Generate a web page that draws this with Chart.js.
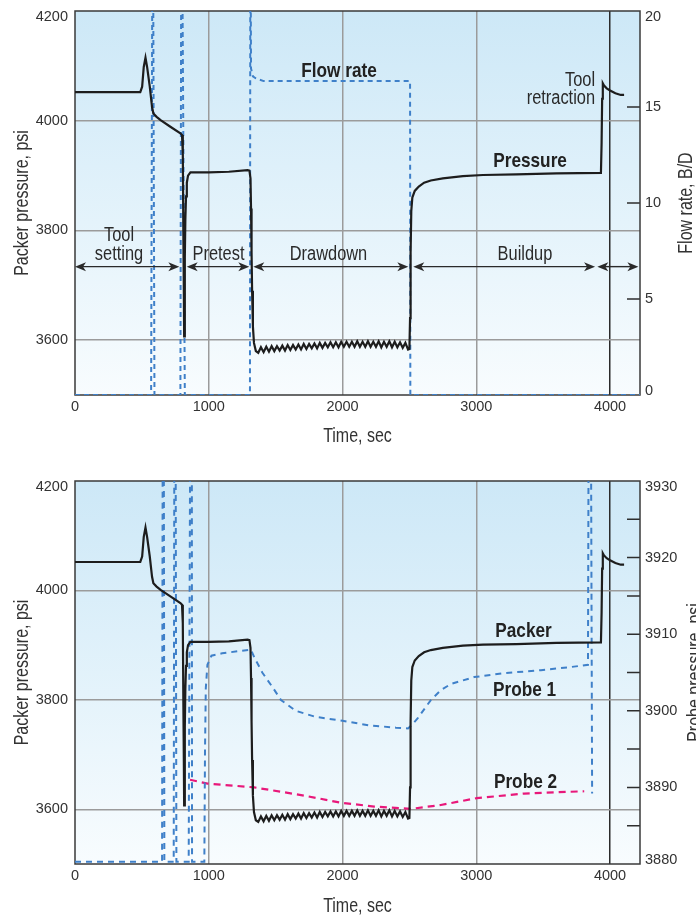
<!DOCTYPE html>
<html>
<head>
<meta charset="utf-8">
<script src="https://cdn.jsdelivr.net/npm/chart.js@4.4.1/dist/chart.umd.min.js"></script>
<style>
  html, body { margin: 0; padding: 0; background: #ffffff; }
  #wrap { position: relative; width: 696px; height: 915px; overflow: hidden; }
  .panel { position: absolute; left: 0; width: 696px; }
  #p1 { top: 0; height: 456px; }
  #p2 { top: 458px; height: 457px; }
</style>
</head>
<body>
<div id="wrap">
  <div class="panel" id="p1"><canvas id="c1"></canvas></div>
  <div class="panel" id="p2"><canvas id="c2"></canvas></div>
</div>
<script>
// ---------- data ----------
const timeTicks = [0, 1000, 2000, 3000, 4000];
const pressureTicks = [3600, 3800, 4000, 4200];
const flowTicks = [0, 5, 10, 15, 20];
const probeTicks = [3880, 3885, 3890, 3895, 3900, 3905, 3910, 3915, 3920, 3925, 3930];

// packer pressure, psi (time in sec)
const packerTime = [
  0, 488, 502, 514, 527, 539, 559, 576, 586, 610, 640, 713, 788, 800, 806, 810, 814, 816,
  821, 825, 830, 836, 845, 863, 1000, 1150, 1290, 1304, 1312, 1316, 1320, 1324, 1330, 1338, 1352,
  1370, 1390, 1410, 1430, 1450, 1470, 1490, 1510, 1530, 1550, 1570, 1590, 1610, 1630, 1650,
  1670, 1690, 1710, 1730, 1750, 1770, 1790, 1810, 1830, 1850, 1870, 1890, 1910, 1930, 1950,
  1970, 1990, 2010, 2030, 2050, 2070, 2090, 2110, 2130, 2150, 2170, 2190, 2210, 2230, 2250,
  2270, 2290, 2310, 2330, 2350, 2370, 2390, 2410, 2430, 2450, 2470, 2490,
  2500, 2505, 2509, 2514, 2522, 2540, 2570, 2610, 2660, 2750, 2900, 3050, 3300, 3600, 3932,
  3937, 3941, 3946, 3955, 3975, 4000, 4040, 4080, 4105
];
const packerPsi = [
  4052, 4052, 4062, 4098, 4115, 4098, 4062, 4025, 4013, 4007, 4001, 3989, 3977, 3974, 3940, 3800, 3680, 3607,
  3750, 3820, 3862, 3887, 3900, 3906, 3906, 3907, 3910, 3909, 3895, 3840, 3760, 3690, 3625, 3595, 3580,
  3577, 3587, 3578, 3588, 3579, 3589, 3580, 3589, 3581, 3590, 3581, 3591, 3582, 3591, 3583,
  3592, 3583, 3593, 3584, 3593, 3585, 3594, 3585, 3595, 3586, 3595, 3587, 3596, 3587, 3596,
  3587, 3597, 3588, 3597, 3588, 3597, 3588, 3598, 3588, 3597, 3588, 3598, 3588, 3597, 3588,
  3598, 3587, 3597, 3588, 3598, 3587, 3597, 3587, 3596, 3586, 3595, 3583,
  3584, 3640, 3760, 3835, 3860, 3872, 3880, 3887, 3891, 3895, 3899, 3901, 3902, 3904, 3905,
  3960, 4040, 4068, 4064, 4059, 4055, 4050, 4047, 4047
];

// flow rate, B/D
const flowTime = [0, 569, 581, 594, 788, 796, 821, 1308, 1311, 1316, 1330, 1350, 1410, 2505, 2507, 4224];
const flowRate = [0, 0, 30, 0, 0, 30, 0, 0, 26, 17.0, 16.6, 16.5, 16.35, 16.35, 0, 0];

// probe pressures, psi
const probe1Time = [
  0, 651, 660, 668, 738, 747, 758, 850, 872, 875, 967, 972, 978, 990, 1020, 1100, 1315,
  1340, 1400, 1480, 1540, 1650, 1800, 2000, 2200, 2400, 2490, 2520, 2561, 2660, 2735, 2810,
  2984, 3200, 3483, 3700, 3835, 3848, 3866
];
const probe1Psi = [
  3880.3, 3880.3, 3990, 3880.3, 3880.3, 3990, 3880.3, 3880.3, 3990, 3880.3, 3880.3, 3895, 3903, 3906, 3907.2, 3907.5, 3908,
  3907, 3905, 3903, 3901.4, 3900, 3899.2, 3898.7, 3898.1, 3897.8, 3897.7, 3898.2, 3899, 3901.4, 3902.7, 3903.5,
  3904.4, 3904.9, 3905.3, 3905.7, 3906, 3990, 3889.2
];
const probe2Time = [860, 991, 1340, 1690, 1988, 2237, 2511, 2735, 3004, 3358, 3807];
const probe2Psi = [3891, 3890.5, 3890, 3889, 3888, 3887.5, 3887.2, 3887.7, 3888.6, 3889.2, 3889.5];

// test phases along the time axis
const phaseNames = [['Tool', 'setting'], ['Pretest'], ['Drawdown'], ['Buildup'], []];
const phaseStart = [0, 835, 1333, 2529, 3905];
const phaseEnd = [780, 1303, 2492, 3888, 4212];

// ---------- styling ----------
const FONT = '"Liberation Sans", Arial, sans-serif';
const NARROW = 0.82;   // horizontal squeeze for a condensed look
Chart.defaults.font.family = FONT;
Chart.defaults.color = '#333333';

const INK = '#1d1d1d';
const BLUE = '#3f80c9';
const PINK = '#e8187a';
const GRID = '#9b9b9b';
const TICK_SIZE = 14.5;

const pts = (xs, ys) => xs.map((x, i) => ({ x: x, y: ys[i] }));

// labels sitting on the top/bottom edge of the plot are nudged inward
function edgeLabel(top, bottom, every) {
  return function (v) {
    if (every && v % every !== 0) return '';
    const s = String(v);
    if (v === top) return ['', s];
    if (v === bottom) return [s, ''];
    return s;
  };
}
function edgeFont(top, bottom) {
  return function (c) {
    const v = c.tick ? c.tick.value : null;
    if (v === top) return { size: TICK_SIZE, lineHeight: '12px' };
    if (v === bottom) return { size: TICK_SIZE, lineHeight: '8px' };
    return { size: TICK_SIZE };
  };
}

function timeScale(axisHeight) {
  return {
    type: 'linear', min: 0, max: 4224,
    afterBuildTicks: s => { s.ticks = timeTicks.map(v => ({ value: v })); },
    afterFit: s => { s.height = axisHeight; s.paddingLeft = 0; s.paddingRight = 0; },
    grid: {
      color: c => {
        const v = c.tick ? c.tick.value : 0;
        if (v === 0) return 'rgba(0,0,0,0)';
        return v === 4000 ? '#2b2b2b' : GRID;
      },
      lineWidth: 1.5, drawTicks: false
    },
    border: { display: false },
    ticks: { padding: 3, font: { size: TICK_SIZE }, color: '#333', maxRotation: 0, autoSkip: false,
      callback: v => String(v) }
  };
}

function pressureScale() {
  return {
    type: 'linear', position: 'left', min: 3500, max: 4200,
    afterBuildTicks: s => { s.ticks = pressureTicks.map(v => ({ value: v })); },
    afterFit: s => { s.width = 75; s.paddingTop = 0; s.paddingBottom = 0; },
    grid: {
      color: c => (c.tick && c.tick.value < 4200) ? GRID : 'rgba(0,0,0,0)',
      lineWidth: 1.5, drawTicks: false
    },
    border: { display: false },
    ticks: { padding: 7, color: '#333', autoSkip: false, font: edgeFont(4200, null), callback: edgeLabel(4200, null) }
  };
}

function rightScale(min, max, tickList, every) {
  return {
    type: 'linear', position: 'right', min: min, max: max,
    afterBuildTicks: s => { s.ticks = tickList.map(v => ({ value: v })); },
    afterFit: s => { s.width = 56; s.paddingTop = 0; s.paddingBottom = 0; },
    grid: { display: false, drawOnChartArea: false, drawTicks: false },
    border: { display: false },
    ticks: { padding: 5, color: '#333', autoSkip: false, font: edgeFont(max, min), callback: edgeLabel(max, min, every) }
  };
}

function arrowHead(ctx, x, y, dir) {
  ctx.beginPath();
  ctx.moveTo(x, y);
  ctx.lineTo(x - dir * 11, y - 4.5);
  ctx.lineTo(x - dir * 8, y);
  ctx.lineTo(x - dir * 11, y + 4.5);
  ctx.closePath();
  ctx.fill();
}

// condensed text: squeeze the glyphs along the writing direction
function narrowText(ctx, text, x, y, align, font, angle) {
  ctx.save();
  ctx.translate(x, y);
  if (angle) ctx.rotate(angle);
  ctx.scale(NARROW, 1);
  ctx.font = font;
  ctx.textAlign = align;
  ctx.textBaseline = 'alphabetic';
  ctx.fillText(text, 0, 0);
  ctx.restore();
}

// background, frame, inward right-axis ticks, notes and axis titles
function makeDecor(cfg) {
  return {
    id: 'decor',
    beforeDraw(chart) {
      const { ctx, chartArea: a } = chart;
      const g = ctx.createLinearGradient(0, a.top, 0, a.bottom);
      g.addColorStop(0, '#cde8f7');
      g.addColorStop(0.55, '#e4f3fb');
      g.addColorStop(1, '#f8fcfe');
      ctx.save();
      ctx.fillStyle = g;
      ctx.fillRect(a.left, a.top, a.right - a.left, a.bottom - a.top);
      ctx.restore();
    },
    beforeDatasetsDraw(chart) {
      const { ctx, chartArea: a } = chart;
      const r = chart.scales.y2;
      ctx.save();
      ctx.strokeStyle = '#2e2e2e';
      ctx.lineWidth = 1.5;
      ctx.beginPath();
      r.ticks.forEach(t => {
        const py = r.getPixelForValue(t.value);
        if (py > a.top + 2 && py < a.bottom - 2) {
          ctx.moveTo(a.right - 13, py);
          ctx.lineTo(a.right, py);
        }
      });
      ctx.stroke();
      ctx.strokeStyle = '#3a3a3a';
      ctx.strokeRect(a.left, a.top, a.right - a.left, a.bottom - a.top);
      ctx.restore();
    },
    afterDatasetsDraw(chart) {
      const { ctx } = chart;
      const xs = chart.scales.x, ys = chart.scales.y;
      ctx.save();
      ctx.fillStyle = '#2a2a2a';
      ctx.strokeStyle = '#2a2a2a';

      if (cfg.phases) {
        const ay = ys.getPixelForValue(cfg.phases.level);
        ctx.lineWidth = 1.4;
        phaseNames.forEach((lines, i) => {
          const x0 = xs.getPixelForValue(phaseStart[i]);
          const x1 = xs.getPixelForValue(phaseEnd[i]);
          ctx.beginPath();
          ctx.moveTo(x0 + 6, ay);
          ctx.lineTo(x1 - 6, ay);
          ctx.stroke();
          arrowHead(ctx, x0, ay, -1);
          arrowHead(ctx, x1, ay, 1);
          const cx = xs.getPixelForValue(cfg.phases.labelAt[i]);
          lines.forEach((s, k) => {
            narrowText(ctx, s, cx, ay - 7 - (lines.length - 1 - k) * 19, 'center', '20px ' + FONT);
          });
        });
      }

      (cfg.notes || []).forEach(n => {
        const x = xs.getPixelForValue(n.x);
        n.lines.forEach((s, k) => narrowText(ctx, s, x, ys.getPixelForValue(n.y[k]), 'right', '20px ' + FONT));
      });

      ctx.fillStyle = '#222';
      (cfg.tags || []).forEach(t => {
        narrowText(ctx, t.text, xs.getPixelForValue(t.x), ys.getPixelForValue(t.y), 'center', 'bold 21px ' + FONT);
      });
      ctx.restore();
    },
    afterDraw(chart) {
      const { ctx, chartArea: a } = chart;
      const midY = (a.top + a.bottom) / 2;
      const f = '19.5px ' + FONT;
      ctx.save();
      ctx.fillStyle = '#333';
      narrowText(ctx, 'Time, sec', (a.left + a.right) / 2, a.bottom + cfg.xTitleGap, 'center', f);
      narrowText(ctx, 'Packer pressure, psi', 28, midY, 'center', f, -Math.PI / 2);
      narrowText(ctx, cfg.rightTitle, cfg.rightTitleX, midY, 'center', f, -Math.PI / 2);
      ctx.restore();
    }
  };
}

const lineStyle = { pointRadius: 0, pointHoverRadius: 0, tension: 0, fill: false };

// ---------- upper panel: packer pressure and flow rate ----------
new Chart(document.getElementById('c1'), {
  type: 'line',
  data: {
    datasets: [
      Object.assign({ label: 'Pressure', data: pts(packerTime, packerPsi), yAxisID: 'y',
        borderColor: INK, borderWidth: 2.2 }, lineStyle),
      Object.assign({ label: 'Flow rate', data: pts(flowTime, flowRate), yAxisID: 'y2',
        borderColor: BLUE, borderWidth: 2, borderDash: [5, 4] }, lineStyle)
    ]
  },
  options: {
    responsive: true, maintainAspectRatio: false, animation: false, devicePixelRatio: 1,
    layout: { padding: { top: 11, left: 0, right: 0, bottom: 0 } },
    plugins: { legend: { display: false }, tooltip: { enabled: false } },
    scales: {
      x: timeScale(61),
      y: pressureScale(),
      y2: rightScale(0, 20, flowTicks, 0)
    }
  },
  plugins: [makeDecor({
    xTitleGap: 47,
    rightTitle: 'Flow rate, B/D',
    rightTitleX: 692,
    phases: { level: 3734, labelAt: [329, 1073, 1895, 3364, 0] },
    notes: [{ lines: ['Tool', 'retraction'], x: 3888, y: [4063, 4030] }],
    tags: [
      { text: 'Flow rate', x: 1974, y: 4080 },
      { text: 'Pressure', x: 3402, y: 3916 }
    ]
  })]
});

// ---------- lower panel: packer and probe pressures ----------
new Chart(document.getElementById('c2'), {
  type: 'line',
  data: {
    datasets: [
      Object.assign({ label: 'Packer', data: pts(packerTime, packerPsi), yAxisID: 'y',
        borderColor: INK, borderWidth: 2.2 }, lineStyle),
      Object.assign({ label: 'Probe 1', data: pts(probe1Time, probe1Psi), yAxisID: 'y2',
        borderColor: BLUE, borderWidth: 2, borderDash: [6, 5] }, lineStyle),
      Object.assign({ label: 'Probe 2', data: pts(probe2Time, probe2Psi), yAxisID: 'y2',
        borderColor: PINK, borderWidth: 2.2, borderDash: [7, 5] }, lineStyle)
    ]
  },
  options: {
    responsive: true, maintainAspectRatio: false, animation: false, devicePixelRatio: 1,
    layout: { padding: { top: 23, left: 0, right: 0, bottom: 0 } },
    plugins: { legend: { display: false }, tooltip: { enabled: false } },
    scales: {
      x: timeScale(51),
      y: pressureScale(),
      y2: rightScale(3880, 3930, probeTicks, 10)
    }
  },
  plugins: [makeDecor({
    xTitleGap: 48,
    rightTitle: 'Probe pressure, psi',
    rightTitleX: 701,
    tags: [
      { text: 'Packer', x: 3353, y: 3915 },
      { text: 'Probe 1', x: 3361, y: 3807 },
      { text: 'Probe 2', x: 3368, y: 3638 }
    ]
  })]
});
</script>
</body>
</html>
